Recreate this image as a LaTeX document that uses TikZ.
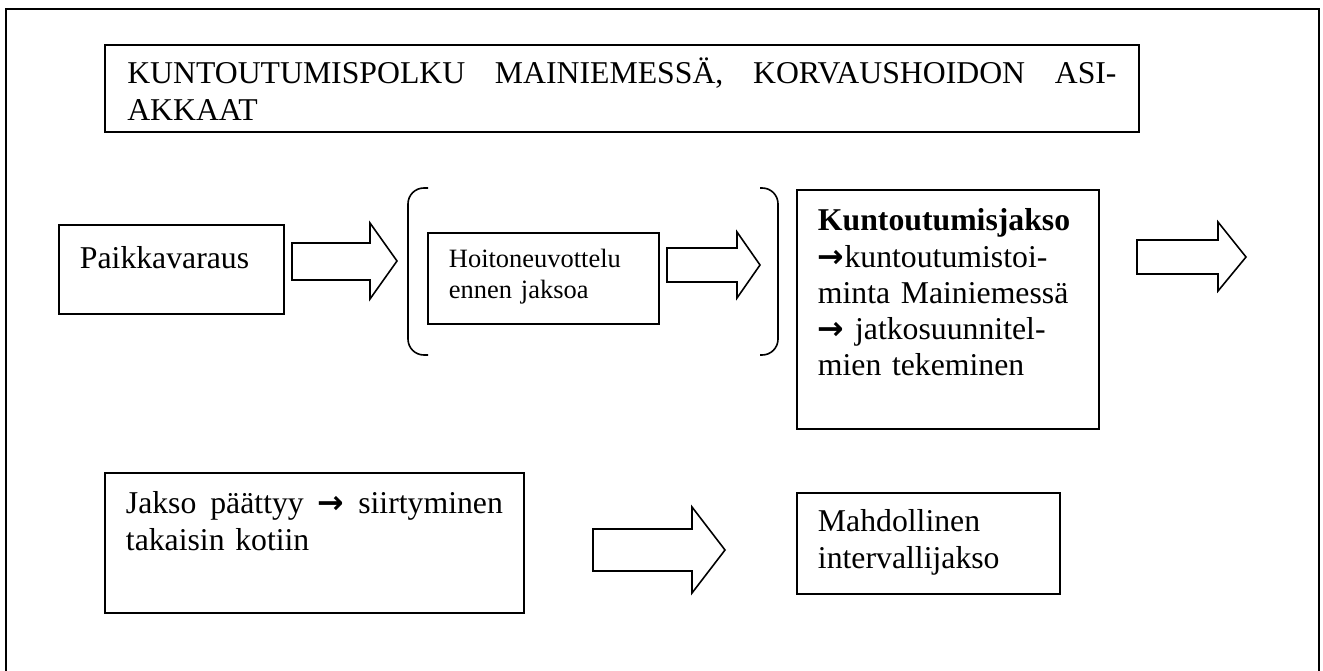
\documentclass[tikz,border=0pt]{standalone}
\usepackage{fontspec}
\setmainfont{Liberation Serif}
\newfontfamily\nuolifont{DejaVu Sans}
\usepackage{tikz}
\newcommand{\nuoli}{{\nuolifont\bfseries →}}

\begin{document}
\begin{tikzpicture}[x=0.378pt,y=-0.378pt,
    laatikko/.style={draw, line width=0.7pt, anchor=north west, align=left,
      inner ysep=0pt, inner xsep=7.94pt, font=\fontsize{12}{13.7}\selectfont},
    isonuoli/.style={draw, line width=0.6pt, line join=miter},
    sulku/.style={draw, line width=0.6pt, rounded corners=6pt}]
  \useasboundingbox (0,0) rectangle (1323,671);

  \draw[line width=0.7pt] (6,671) -- (6,9) -- (1319,9) -- (1319,671);

  \node[laatikko, text width=374pt, inner xsep=8.45pt, text height=14.74pt, text depth=18.14pt]
    (otsikko) at (104,44)
    {KUNTOUTUMISPOLKU \hfill MAINIEMESSÄ, \hfill KORVAUSHOIDON \hfill ASI-\\AKKAAT};

  \node[laatikko, text width=69.2pt, text height=16.63pt, text depth=17pt]
    (paikka) at (58,224) {Paikkavaraus};
  \node[laatikko, text width=71.4pt, text height=13.2pt, text depth=21.2pt,
    font=\fontsize{10}{11.7}\selectfont]
    (hoito) at (427,232) {Hoitoneuvottelu\\ennen jaksoa};
  \node[laatikko, text width=98.3pt, text height=15.5pt, text depth=74.8pt]
    (kuntoutus) at (796,189)
    {\textbf{Kuntoutumisjakso}\\\nuoli kuntoutumistoi-\\minta Mainiemessä\\\nuoli{} jatkosuunnitel-\\mien tekeminen};
  \node[laatikko, text width=142.5pt, text height=15.5pt, text depth=37.4pt]
    (paattyy) at (104,472)
    {Jakso \hfill päättyy \hfill\nuoli\hfill{} siirtyminen\\takaisin kotiin};
  \node[laatikko, text width=83.5pt, text height=14.7pt, text depth=23.4pt]
    (intervalli) at (796,492) {Mahdollinen\\intervallijakso};

  \draw[sulku] (428,188) -- (408,188) -- (408,355) -- (428,355);
  \draw[sulku] (760,188) -- (778,188) -- (778,355) -- (760,355);

  \draw[isonuoli] (292,243) -- (370,243) -- (370,223) -- (397,261) -- (370,299) -- (370,280) -- (292,280) -- cycle;
  \draw[isonuoli] (667,248) -- (737,248) -- (737,232) -- (760,265) -- (737,298) -- (737,282) -- (667,282) -- cycle;
  \draw[isonuoli] (1137,240) -- (1218,240) -- (1218,222) -- (1246,257) -- (1218,291) -- (1218,274) -- (1137,274) -- cycle;
  \draw[isonuoli] (593,529) -- (692,529) -- (692,507) -- (725,550) -- (692,593) -- (692,571) -- (593,571) -- cycle;
\end{tikzpicture}
\end{document}
